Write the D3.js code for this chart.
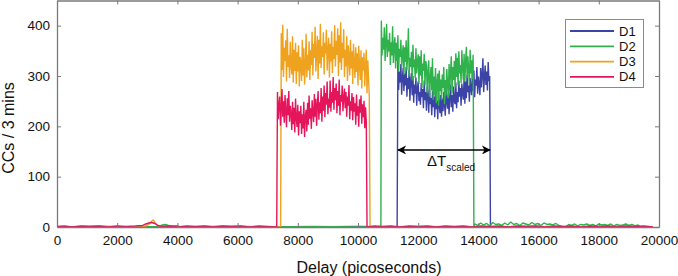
<!DOCTYPE html>
<html><head><meta charset="utf-8">
<script src="https://cdn.jsdelivr.net/npm/d3@7/dist/d3.min.js"></script>
<style>html,body{margin:0;padding:0;background:#fff;}svg{display:block;font-family:"Liberation Sans",Arial,sans-serif;}</style>
</head><body>
<svg id="chart" width="678" height="276"></svg>
<script>
// ---------------- DATA ----------------
const categories = ["D1", "D2", "D3", "D4"];
const xTicks = [0, 2000, 4000, 6000, 8000, 10000, 12000, 14000, 16000, 18000, 20000];
const yTicks = [0, 100, 200, 300, 400];
const xLabel = "Delay (picoseconds)";
const yLabel = "CCs / 3 mins";

// D1 (blue)
const d1Knots = [[0,0],[1500,1],[3000,0],[4000,2],[4100,0],[6000,1],[8000,0],[10000,1],[11300,0],
  [14400,0],[15500,1],[17000,0],[18500,1],[19800,0]];
const d1Start = 11325, d1Step = 25;
const d1Values = [331,272,309,287,324,263,298,316,270,305,
  281,318,259,296,274,312,251,290,306,262,
  300,247,283,265,297,241,276,289,250,268,
  243,286,258,274,236,291,252,268,231,279,
  262,227,281,244,256,222,270,238,259,218,
  266,234,251,214,274,240,226,262,219,255,
  230,268,243,221,277,249,235,265,224,258,
  283,238,262,229,279,251,244,287,236,268,
  248,291,259,276,241,285,266,253,297,245,
  289,256,302,268,281,249,296,274,262,308,
  270,311,258,293,281,318,265,299,284,262,
  316,277,303,335,268,297,321,282,309,271,328,290,300];

// D2 (green)
const d2Knots = [[0,0],[1200,1],[2500,0],[3400,1],[3500,4],[3600,5],[3700,3],[3800,0],[5500,1],[7000,0],[8500,1],[10000,0],[10760,0],
  [13850,0],[16800,1],[16900,0],[19400,0]];
const d2Start = 10775, d2Step = 25;
const d2Values = [410,341,376,352,397,330,365,404,338,372,
  349,386,322,367,341,399,326,358,377,315,
  366,330,381,309,354,338,372,316,345,361,
  302,357,328,371,311,342,395,299,336,318,
  348,291,362,317,333,296,355,305,328,343,
  284,339,301,351,276,325,310,344,281,330,
  322,266,307,331,259,296,318,271,335,253,
  299,262,316,246,287,305,241,311,270,293,
  252,303,276,318,244,292,261,314,283,256,
  324,271,309,339,266,318,292,330,277,345,
  298,336,281,349,305,322,286,351,317,292,
  344,289,327,358,296,339,312,282,352,305,331,294,342];
const d2TailStart = 13875, d2TailStep = 100;
const d2TailValues = [6,3,8,4,7,2,9,5,6,3,8,4,10,5,7,3,8,6,4,9,5,7,3,8,5,6,4,7,3];
const d2Tail2Start = 17000, d2Tail2Step = 100;
const d2Tail2Values = [5,3,6,2,5,4,6,3,5,2,6,4,5,3,6,2,5,3,4,6,3,5,2,4];

// D3 (orange)
const d3Knots = [[0,0],[1000,1],[2000,0],[2900,1],[3050,5],[3150,12],[3200,14],[3250,9],[3350,3],[3450,0],[5000,1],[7430,0],
  [10400,0],[12000,1],[14000,0],[16000,1],[18000,0],[19800,0]];
const d3Start = 7450, d3Step = 25;
const d3Values = [385,312,402,298,356,330,371,289,394,318,
  341,296,368,322,303,379,287,352,310,366,
  284,347,309,361,279,338,325,290,372,301,
  355,283,318,384,297,342,311,369,292,351,
  322,388,301,364,336,398,309,347,380,294,
  372,325,404,316,359,338,387,303,366,345,
  392,311,350,376,297,364,329,389,306,358,
  334,401,319,370,342,395,300,381,327,407,
  312,366,336,393,298,352,319,379,290,361,
  338,301,372,315,349,284,364,326,296,357,
  308,345,281,360,322,292,351,275,337,311,
  346,279,320,352,266,331,296,258];

// D4 (pink)
const d4Knots = [[0,1],[250,2],[500,0],[800,2],[1100,1],[1400,2],[1700,0],[2000,2],[2300,1],[2600,2],[2850,3],[2950,6],[3050,8],[3150,9],[3250,7],[3350,3],[3500,1],[3750,2],[4000,0],[4300,2],[4600,1],[4900,2],[5200,0],[5500,2],[5800,1],[6100,2],[6400,0],[6700,2],[7000,1],[7300,0],
  [10300,0],[10550,2],[10800,1],[11100,2],[11400,0],[11700,2],[12000,1],[12300,2],[12600,0],[12900,2],[13200,1],[13500,2],[13800,0],[14100,2],[14400,1],[14700,2],[15000,0],[15300,2],[15600,1],[15900,2],[16200,0],[16500,2],[16800,1],[17100,2],[17400,0],[17700,2],[18000,1],[18300,2],[18600,0],[18900,2],[19200,1],[19500,2],[19800,0]];
const d4Start = 7325, d4Step = 25;
const d4Values = [268,214,243,259,201,236,274,219,250,207,
  262,231,198,256,222,270,209,241,226,193,
  249,204,237,188,255,216,199,243,182,230,
  206,241,185,224,196,249,179,218,233,190,
  247,203,261,215,236,195,252,228,208,264,
  219,255,201,242,270,213,248,226,276,209,
  259,231,281,218,266,243,289,224,255,237,
  291,229,268,247,298,233,276,252,285,226,
  270,241,293,222,262,249,281,230,258,275,
  236,268,219,259,241,282,214,250,231,266,
  212,258,229,246,203,263,221,240,199,254,
  227,261,205,244,218,251,196,238,210];

// annotation: ΔT_scaled arrow (ps) at count level
const arrowFrom = 11330, arrowTo = 14385, arrowLevel = 153;

// ---------------- BUILD ----------------
function dense(start, step, vals) { return vals.map((v, i) => [start + i * step, v]); }
function assemble(knots, ...segs) {
  let pts = knots.slice();
  segs.forEach(s => { pts = pts.concat(s); });
  return pts.sort((a, b) => a[0] - b[0]);
}
const seriesData = {
  D1: assemble(d1Knots, dense(d1Start, d1Step, d1Values)),
  D2: assemble(d2Knots, dense(d2Start, d2Step, d2Values), dense(d2TailStart, d2TailStep, d2TailValues), dense(d2Tail2Start, d2Tail2Step, d2Tail2Values)),
  D3: assemble(d3Knots, dense(d3Start, d3Step, d3Values)),
  D4: assemble(d4Knots, dense(d4Start, d4Step, d4Values))
};
const colors = { D1: "#3b43a7", D2: "#2fb24b", D3: "#efa21e", D4: "#e5155c" };

const svg = d3.select("#chart");
const L = 57, R = 659, T = 0.5, B = 227;
const x = d3.scaleLinear().domain([0, 20000]).range([L, R]);
const y = d3.scaleLinear().domain([0, 450]).range([B, T]);

// series
const line = d3.line().x(d => x(d[0])).y(d => y(d[1]));
const plot = svg.append("g");
categories.forEach(c => {
  plot.append("path").datum(seriesData[c])
    .attr("fill", "none").attr("stroke", colors[c])
    .attr("stroke-width", 1.4).attr("stroke-linejoin", "bevel")
    .attr("d", line);
});

// axes (ticks inside)
const axisColor = "#7a7a7a";
const gx = svg.append("g").attr("transform", `translate(0,${B})`)
  .call(d3.axisBottom(x).tickValues(xTicks).tickSizeInner(-4).tickSizeOuter(0).tickPadding(8).tickFormat(d3.format("d")));
const gxt = svg.append("g").attr("transform", `translate(0,${T})`)
  .call(d3.axisTop(x).tickValues(xTicks).tickSizeInner(-4).tickSizeOuter(0).tickFormat(""));
const gy = svg.append("g").attr("transform", `translate(${L},0)`)
  .call(d3.axisLeft(y).tickValues(yTicks).tickSizeInner(-4).tickSizeOuter(0).tickPadding(7));
const gyr = svg.append("g").attr("transform", `translate(${R},0)`)
  .call(d3.axisRight(y).tickValues(yTicks).tickSizeInner(-4).tickSizeOuter(0).tickFormat(""));
[gx, gxt, gy, gyr].forEach(g => {
  g.selectAll(".domain").attr("stroke", axisColor).attr("stroke-width", 1.3);
  g.selectAll(".tick line").attr("stroke", axisColor).attr("stroke-width", 1);
  g.selectAll("text").attr("fill", "#111").style("font-size", "13.5px").style("font-family", "Liberation Sans, Arial, sans-serif");
});

// axis titles
svg.append("text").attr("x", 369).attr("y", 273).attr("text-anchor", "middle")
  .style("font-size", "16px").attr("fill", "#111").text(xLabel);
svg.append("text").attr("transform", `translate(14,128) rotate(-90)`).attr("text-anchor", "middle")
  .style("font-size", "16px").attr("fill", "#111").text(yLabel);

// legend
const lg = svg.append("g");
lg.append("rect").attr("x", 565.5).attr("y", 19.5).attr("width", 78).attr("height", 68)
  .attr("fill", "#fff").attr("stroke", "#8a8a8a").attr("stroke-width", 1);
categories.forEach((c, i) => {
  const yy = 31 + i * 15.3;
  lg.append("line").attr("x1", 570).attr("x2", 614).attr("y1", yy).attr("y2", yy)
    .attr("stroke", colors[c]).attr("stroke-width", 1.8);
  lg.append("text").attr("x", 619).attr("y", yy + 4.5).style("font-size", "13px").attr("fill", "#111").text(c);
});

// annotation arrow
const defs = svg.append("defs");
["s", "e"].forEach(k => {
  defs.append("marker").attr("id", "ah" + k).attr("viewBox", "0 0 10 10").attr("refX", 9).attr("refY", 5)
    .attr("markerWidth", 9).attr("markerHeight", 9).attr("markerUnits", "userSpaceOnUse")
    .attr("orient", "auto-start-reverse")
    .append("path").attr("d", "M0,0 L10,5 L0,10 L3,5 Z").attr("fill", "#000");
});
svg.append("line").attr("x1", x(arrowFrom)).attr("x2", x(arrowTo)).attr("y1", y(arrowLevel)).attr("y2", y(arrowLevel))
  .attr("stroke", "#000").attr("stroke-width", 1.6)
  .attr("marker-start", "url(#ahs)").attr("marker-end", "url(#ahe)");
const ann = svg.append("text").attr("x", 427).attr("y", y(arrowLevel) + 16).attr("fill", "#111").style("font-size", "15px");
ann.append("tspan").text("ΔT");
ann.append("tspan").attr("dy", 5).style("font-size", "10px").text("scaled");
</script>
</body></html>
